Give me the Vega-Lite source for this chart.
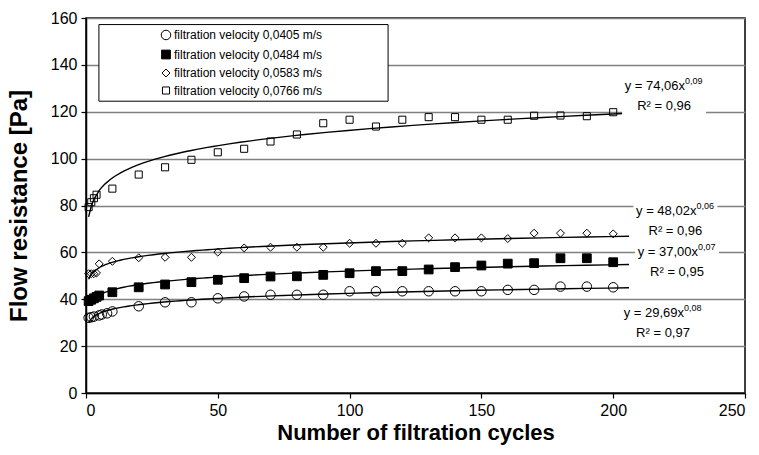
{
  "$schema": "https://vega.github.io/schema/vega-lite/v6.json",
  "width": 659,
  "height": 375,
  "autosize": "none",
  "padding": {"left": 86, "top": 18, "right": 14, "bottom": 62},
  "background": "white",
  "config": {
    "view": {"stroke": "black", "strokeWidth": 1.5},
    "font": "Liberation Sans",
    "axis": {
      "domainColor": "black", "domainWidth": 1.5, "tickColor": "black", "tickSize": 5, "tickWidth": 1.2,
      "labelFont": "Liberation Sans", "labelFontSize": 16, "labelColor": "black",
      "titleFont": "Liberation Sans", "titleFontWeight": "bold", "titleFontSize": 22, "titleColor": "black"
    },
    "legend": {"orient": "none", "legendX": 74, "legendY": 11, "padding": 0, "labelFont": "Liberation Sans", "labelFontSize": 12, "labelColor": "black", "labelOffset": 2, "rowPadding": 5.5, "symbolStrokeWidth": 1}
  },
  "datasets": {
    "frame": [{"x": 4.9, "x2": 114.6, "y": 157.2, "y2": 124.5}],
    "pts": [
      {"series": "filtration velocity 0,0405 m/s", "x": 1, "y": 32.1},
      {"series": "filtration velocity 0,0405 m/s", "x": 2, "y": 32.3},
      {"series": "filtration velocity 0,0405 m/s", "x": 3, "y": 32.6},
      {"series": "filtration velocity 0,0405 m/s", "x": 5, "y": 33.1},
      {"series": "filtration velocity 0,0405 m/s", "x": 6, "y": 33.5},
      {"series": "filtration velocity 0,0405 m/s", "x": 8, "y": 34.0},
      {"series": "filtration velocity 0,0405 m/s", "x": 10, "y": 34.8},
      {"series": "filtration velocity 0,0405 m/s", "x": 20, "y": 37.0},
      {"series": "filtration velocity 0,0405 m/s", "x": 30, "y": 38.7},
      {"series": "filtration velocity 0,0405 m/s", "x": 40, "y": 38.7},
      {"series": "filtration velocity 0,0405 m/s", "x": 50, "y": 40.4},
      {"series": "filtration velocity 0,0405 m/s", "x": 60, "y": 41.2},
      {"series": "filtration velocity 0,0405 m/s", "x": 70, "y": 41.9},
      {"series": "filtration velocity 0,0405 m/s", "x": 80, "y": 41.9},
      {"series": "filtration velocity 0,0405 m/s", "x": 90, "y": 41.9},
      {"series": "filtration velocity 0,0405 m/s", "x": 100, "y": 43.4},
      {"series": "filtration velocity 0,0405 m/s", "x": 110, "y": 43.4},
      {"series": "filtration velocity 0,0405 m/s", "x": 120, "y": 43.4},
      {"series": "filtration velocity 0,0405 m/s", "x": 130, "y": 43.4},
      {"series": "filtration velocity 0,0405 m/s", "x": 140, "y": 43.4},
      {"series": "filtration velocity 0,0405 m/s", "x": 150, "y": 43.4},
      {"series": "filtration velocity 0,0405 m/s", "x": 160, "y": 44.0},
      {"series": "filtration velocity 0,0405 m/s", "x": 170, "y": 44.0},
      {"series": "filtration velocity 0,0405 m/s", "x": 180, "y": 45.4},
      {"series": "filtration velocity 0,0405 m/s", "x": 190, "y": 45.4},
      {"series": "filtration velocity 0,0405 m/s", "x": 200, "y": 45.1},
      {"series": "filtration velocity 0,0484 m/s", "x": 1, "y": 39.2},
      {"series": "filtration velocity 0,0484 m/s", "x": 2, "y": 39.8},
      {"series": "filtration velocity 0,0484 m/s", "x": 3, "y": 40.4},
      {"series": "filtration velocity 0,0484 m/s", "x": 4, "y": 41.0},
      {"series": "filtration velocity 0,0484 m/s", "x": 5, "y": 41.6},
      {"series": "filtration velocity 0,0484 m/s", "x": 10, "y": 43.0},
      {"series": "filtration velocity 0,0484 m/s", "x": 20, "y": 45.1},
      {"series": "filtration velocity 0,0484 m/s", "x": 30, "y": 46.3},
      {"series": "filtration velocity 0,0484 m/s", "x": 40, "y": 47.3},
      {"series": "filtration velocity 0,0484 m/s", "x": 50, "y": 48.3},
      {"series": "filtration velocity 0,0484 m/s", "x": 60, "y": 49.0},
      {"series": "filtration velocity 0,0484 m/s", "x": 70, "y": 49.7},
      {"series": "filtration velocity 0,0484 m/s", "x": 80, "y": 49.8},
      {"series": "filtration velocity 0,0484 m/s", "x": 90, "y": 50.4},
      {"series": "filtration velocity 0,0484 m/s", "x": 100, "y": 51.1},
      {"series": "filtration velocity 0,0484 m/s", "x": 110, "y": 52.0},
      {"series": "filtration velocity 0,0484 m/s", "x": 120, "y": 52.0},
      {"series": "filtration velocity 0,0484 m/s", "x": 130, "y": 52.7},
      {"series": "filtration velocity 0,0484 m/s", "x": 140, "y": 53.7},
      {"series": "filtration velocity 0,0484 m/s", "x": 150, "y": 54.4},
      {"series": "filtration velocity 0,0484 m/s", "x": 160, "y": 55.2},
      {"series": "filtration velocity 0,0484 m/s", "x": 170, "y": 55.4},
      {"series": "filtration velocity 0,0484 m/s", "x": 180, "y": 57.5},
      {"series": "filtration velocity 0,0484 m/s", "x": 190, "y": 57.5},
      {"series": "filtration velocity 0,0484 m/s", "x": 200, "y": 55.8},
      {"series": "filtration velocity 0,0583 m/s", "x": 1, "y": 50.9},
      {"series": "filtration velocity 0,0583 m/s", "x": 2, "y": 50.9},
      {"series": "filtration velocity 0,0583 m/s", "x": 3, "y": 50.9},
      {"series": "filtration velocity 0,0583 m/s", "x": 4, "y": 51.2},
      {"series": "filtration velocity 0,0583 m/s", "x": 5, "y": 55.1},
      {"series": "filtration velocity 0,0583 m/s", "x": 10, "y": 56.2},
      {"series": "filtration velocity 0,0583 m/s", "x": 20, "y": 57.7},
      {"series": "filtration velocity 0,0583 m/s", "x": 30, "y": 57.9},
      {"series": "filtration velocity 0,0583 m/s", "x": 40, "y": 57.9},
      {"series": "filtration velocity 0,0583 m/s", "x": 50, "y": 60.1},
      {"series": "filtration velocity 0,0583 m/s", "x": 60, "y": 61.9},
      {"series": "filtration velocity 0,0583 m/s", "x": 70, "y": 62.2},
      {"series": "filtration velocity 0,0583 m/s", "x": 80, "y": 62.2},
      {"series": "filtration velocity 0,0583 m/s", "x": 90, "y": 62.2},
      {"series": "filtration velocity 0,0583 m/s", "x": 100, "y": 63.9},
      {"series": "filtration velocity 0,0583 m/s", "x": 110, "y": 63.9},
      {"series": "filtration velocity 0,0583 m/s", "x": 120, "y": 63.9},
      {"series": "filtration velocity 0,0583 m/s", "x": 130, "y": 66.2},
      {"series": "filtration velocity 0,0583 m/s", "x": 140, "y": 66.2},
      {"series": "filtration velocity 0,0583 m/s", "x": 150, "y": 66.2},
      {"series": "filtration velocity 0,0583 m/s", "x": 160, "y": 65.9},
      {"series": "filtration velocity 0,0583 m/s", "x": 170, "y": 68.2},
      {"series": "filtration velocity 0,0583 m/s", "x": 180, "y": 68.2},
      {"series": "filtration velocity 0,0583 m/s", "x": 190, "y": 68.2},
      {"series": "filtration velocity 0,0583 m/s", "x": 200, "y": 67.9},
      {"series": "filtration velocity 0,0766 m/s", "x": 1, "y": 79.3},
      {"series": "filtration velocity 0,0766 m/s", "x": 2, "y": 81.4},
      {"series": "filtration velocity 0,0766 m/s", "x": 3, "y": 83.1},
      {"series": "filtration velocity 0,0766 m/s", "x": 4, "y": 84.6},
      {"series": "filtration velocity 0,0766 m/s", "x": 10, "y": 87.2},
      {"series": "filtration velocity 0,0766 m/s", "x": 20, "y": 93.2},
      {"series": "filtration velocity 0,0766 m/s", "x": 30, "y": 96.3},
      {"series": "filtration velocity 0,0766 m/s", "x": 40, "y": 99.5},
      {"series": "filtration velocity 0,0766 m/s", "x": 50, "y": 102.7},
      {"series": "filtration velocity 0,0766 m/s", "x": 60, "y": 104.2},
      {"series": "filtration velocity 0,0766 m/s", "x": 70, "y": 107.3},
      {"series": "filtration velocity 0,0766 m/s", "x": 80, "y": 110.3},
      {"series": "filtration velocity 0,0766 m/s", "x": 90, "y": 115.1},
      {"series": "filtration velocity 0,0766 m/s", "x": 100, "y": 116.6},
      {"series": "filtration velocity 0,0766 m/s", "x": 110, "y": 113.7},
      {"series": "filtration velocity 0,0766 m/s", "x": 120, "y": 116.6},
      {"series": "filtration velocity 0,0766 m/s", "x": 130, "y": 117.7},
      {"series": "filtration velocity 0,0766 m/s", "x": 140, "y": 117.7},
      {"series": "filtration velocity 0,0766 m/s", "x": 150, "y": 116.6},
      {"series": "filtration velocity 0,0766 m/s", "x": 160, "y": 116.6},
      {"series": "filtration velocity 0,0766 m/s", "x": 170, "y": 118.3},
      {"series": "filtration velocity 0,0766 m/s", "x": 180, "y": 118.4},
      {"series": "filtration velocity 0,0766 m/s", "x": 190, "y": 118.1},
      {"series": "filtration velocity 0,0766 m/s", "x": 200, "y": 119.8}
    ],
    "ann": [
      {"series": "filtration velocity 0,0766 m/s", "x": 219.3, "y": 126.9, "eq": "y = 74,06x", "exp": "0,09", "r2": "R² = 0,96"},
      {"series": "filtration velocity 0,0583 m/s", "x": 223.6, "y": 73.6, "eq": "y = 48,02x", "exp": "0,06", "r2": "R² = 0,96"},
      {"series": "filtration velocity 0,0484 m/s", "x": 224.2, "y": 55.8, "eq": "y = 37,00x", "exp": "0,07", "r2": "R² = 0,95"},
      {"series": "filtration velocity 0,0405 m/s", "x": 218.9, "y": 29.7, "eq": "y = 29,69x", "exp": "0,08", "r2": "R² = 0,97"}
    ]
  },
  "encoding": {
    "x": {"field": "x", "type": "quantitative", "scale": {"domain": [0, 250], "nice": false},
      "axis": {"values": [0, 50, 100, 150, 200, 250], "grid": false, "labelPadding": 4, "titlePadding": 4}, "title": "Number of filtration cycles"},
    "y": {"field": "y", "type": "quantitative", "scale": {"domain": [0, 160], "nice": false},
      "axis": {"values": [0, 20, 40, 60, 80, 100, 120, 140, 160], "grid": true, "gridColor": "#808080", "gridWidth": 1.5, "labelPadding": 4, "titlePadding": 19, "titleFontSize": 24}, "title": "Flow resistance [Pa]"}
  },
  "layer": [
    {
      "data": {"name": "frame"},
      "mark": {"type": "rect", "fill": "white", "stroke": "black", "strokeWidth": 1},
      "encoding": {
        "x2": {"field": "x2"},
        "y2": {"field": "y2"}
      }
    },
    {
      "data": {"name": "pts"},
      "mark": {"type": "point", "stroke": "black", "strokeWidth": 1, "opacity": 1},
      "encoding": {
        "shape": {"field": "series", "type": "nominal", "legend": {"title": null}, "scale": {"range": ["circle", "square", "diamond", "square"]}},
        "fill": {"field": "series", "type": "nominal", "legend": {"title": null}, "scale": {"range": ["transparent", "black", "transparent", "transparent"]}},
        "size": {"field": "series", "type": "nominal", "legend": {"title": null}, "scale": {"range": [90, 50, 100, 100]}}
      }
    },
    {
      "data": {"name": "pts"},
      "transform": [{"regression": "y", "on": "x", "groupby": ["series"], "method": "pow", "extent": [1, 206]}],
      "mark": {"type": "line", "color": "black", "strokeWidth": 1.4},
      "encoding": {"detail": {"field": "series", "type": "nominal"}}
    },
    {
      "data": {"name": "ann"},
      "mark": {"type": "point", "shape": "M-1,-0.46H1V0.46H-1Z", "size": 7056, "filled": true, "fill": "white", "opacity": 1, "strokeWidth": 0}
    },
    {
      "data": {"name": "ann"},
      "mark": {"type": "text", "align": "right", "baseline": "middle", "dx": 21, "dy": -10, "fontSize": 13, "font": "Liberation Sans", "color": "black"},
      "encoding": {"text": {"field": "eq"}}
    },
    {
      "data": {"name": "ann"},
      "mark": {"type": "text", "align": "left", "baseline": "middle", "dx": 21, "dy": -15, "fontSize": 9, "font": "Liberation Sans", "color": "black"},
      "encoding": {"text": {"field": "exp"}}
    },
    {
      "data": {"name": "ann"},
      "mark": {"type": "text", "align": "center", "baseline": "middle", "dy": 10, "fontSize": 13, "font": "Liberation Sans", "color": "black"},
      "encoding": {"text": {"field": "r2"}}
    }
  ]
}
